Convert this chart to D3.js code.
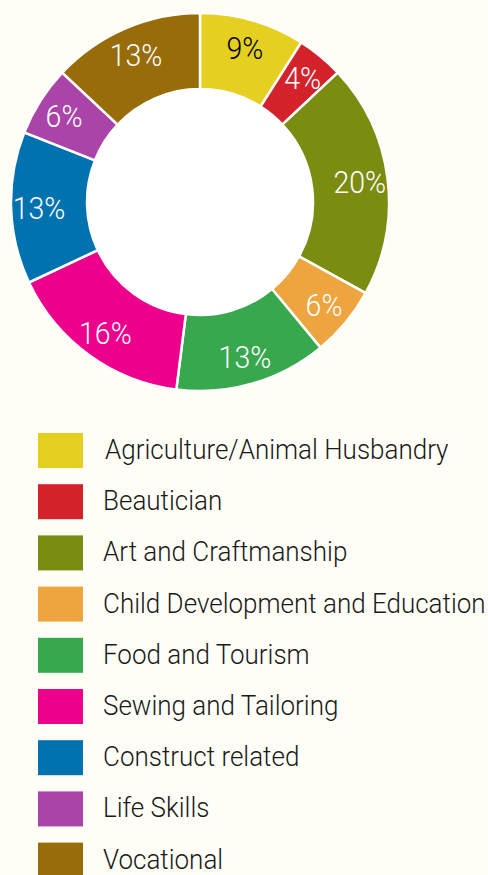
<!DOCTYPE html>
<html>
<head>
<meta charset="utf-8">
<script src="https://cdn.jsdelivr.net/npm/d3@7/dist/d3.min.js"></script>
<style>
  html, body { margin: 0; padding: 0; background: #fefef6; }
  svg { display: block; }
  text { font-family: Roboto, "Noto Sans", sans-serif; font-weight: 300; }
</style>
</head>
<body>
<svg id="chart" width="488" height="875"></svg>
<script>
const categories = [
  "Agriculture/Animal Husbandry",
  "Beautician",
  "Art and Craftmanship",
  "Child Development and Education",
  "Food and Tourism",
  "Sewing and Tailoring",
  "Construct related",
  "Life Skills",
  "Vocational"
];
const values = [9, 4, 20, 6, 13, 16, 13, 6, 13];
const colors = ["#e5cf20", "#d4222b", "#7b8c11", "#eea43f", "#38a84e", "#ec008c", "#0072b0", "#ab44a9", "#986c09"];
const labelColors = ["#000000", "#ffffff", "#ffffff", "#ffffff", "#ffffff", "#ffffff", "#ffffff", "#ffffff", "#ffffff"];

const svg = d3.select("#chart");
const cx = 200, cy = 202, rOuter = 189, rInner = 113, rLabel = 161;

const data = categories.map((c, i) => ({ name: c, value: values[i], color: colors[i], label: labelColors[i] }));

const pie = d3.pie().value(d => d.value).sort(null);
const arcs = pie(data);
const arc = d3.arc().innerRadius(rInner).outerRadius(rOuter);
const labelArc = d3.arc().innerRadius(rLabel).outerRadius(rLabel);

const g = svg.append("g").attr("transform", `translate(${cx},${cy})`);

g.append("circle").attr("r", rInner).attr("fill", "#ffffff");

g.selectAll("path.slice")
  .data(arcs)
  .join("path")
  .attr("class", "slice")
  .attr("d", arc)
  .attr("fill", d => d.data.color)
  .attr("stroke", "#ffffff")
  .attr("stroke-width", 2.5);

g.selectAll("text.pct")
  .data(arcs)
  .join("text")
  .attr("class", "pct")
  .attr("transform", d => `translate(${labelArc.centroid(d)}) scale(1,1.12)`)
  .attr("text-anchor", "middle")
  .attr("dy", "0.36em")
  .attr("font-size", 28.5)
  .attr("fill", d => d.data.label)
  .text(d => d.data.value + "%");

const legend = svg.append("g").attr("transform", "translate(38,433)");
const rowH = 51.2;
const rows = legend.selectAll("g.row")
  .data(data)
  .join("g")
  .attr("class", "row")
  .attr("transform", (d, i) => `translate(0,${i * rowH})`);

rows.append("rect")
  .attr("width", 45)
  .attr("height", 35)
  .attr("fill", d => d.color);

rows.append("text")
  .attr("transform", (d, i) => `translate(${i === 0 ? 67 : 65},26) scale(1,1.08)`)
  .attr("font-size", 26)
  .attr("fill", "#1a1a1a")
  .text(d => d.name);
</script>
</body>
</html>
